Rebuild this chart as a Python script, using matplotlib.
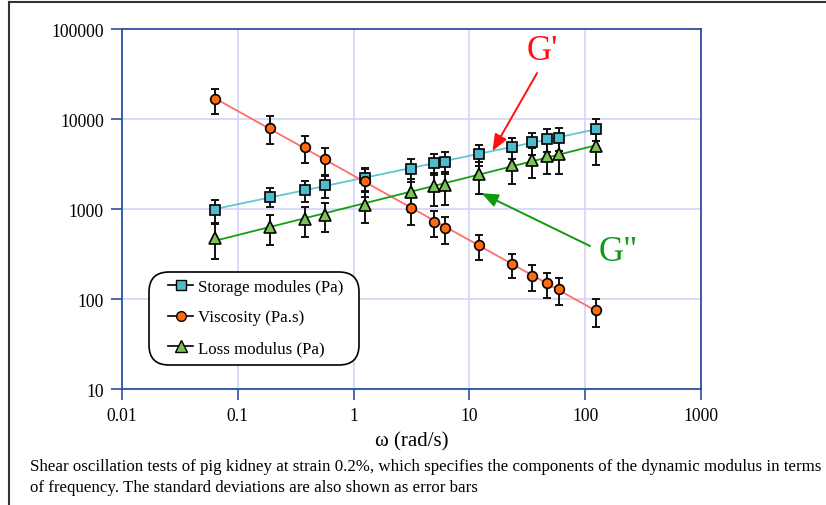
#!/usr/bin/env python3
"""Dynamic modulus / viscosity vs angular frequency (pig kidney, strain 0.2%)."""

import numpy as np
import matplotlib
matplotlib.use("Agg")
import matplotlib.pyplot as plt
from matplotlib.lines import Line2D
from matplotlib.patches import FancyBboxPatch

plt.rcParams["font.family"] = ["Liberation Serif", "DejaVu Serif"]

# angular frequency (rad/s)
OMEGA = [0.063, 0.19, 0.38, 0.57, 1.25, 3.1, 4.9, 6.2, 12, 23.5, 35, 47, 59, 125]

STORAGE     = [975, 1375, 1635, 1840, 2220, 2790, 3250, 3370, 4080, 4880, 5510, 5960, 6210, 7780]
STORAGE_ERR = [280, 330, 430, 530, 620, 800, 870, 950, 1100, 1300, 1550, 1700, 1750, 2100]

VISCOSITY     = [16500, 8000, 4850, 3550, 2050, 1030, 720, 610, 395, 242, 182, 149, 128, 75]
VISCOSITY_ERR = [5000, 2700, 1600, 1200, 700, 370, 235, 205, 125, 72, 58, 47, 42, 26]

LOSS     = [480, 630, 775, 860, 1120, 1530, 1790, 1850, 2420, 3100, 3500, 3920, 4060, 4950]
LOSS_ERR = [200, 230, 290, 310, 420, 600, 720, 750, 950, 1200, 1300, 1500, 1600, 1900]

SERIES = [
    ("Storage modules (Pa)", STORAGE, STORAGE_ERR, "s", "#4FBCCE", "#63C6D6", 7.5),
    ("Viscosity (Pa.s)", VISCOSITY, VISCOSITY_ERR, "o", "#FF6A10", "#FF6E6E", 7),
    ("Loss modulus (Pa)", LOSS, LOSS_ERR, "^", "#7DC257", "#12A012", 9),
]

CAPTION = ("Shear oscillation tests of pig kidney at strain 0.2%, which specifies the components "
           "of the dynamic modulus in terms\nof frequency. The standard deviations are also "
           "shown as error bars")

AXIS_BLUE = "#2F4F9F"
GRID_COL = "#D2D2FA"
RED = "#FF1010"
GREEN = "#109A10"


def main():
    fig = plt.figure(figsize=(8.26, 5.06), dpi=100)
    ax = fig.add_axes([0.1477, 0.2292, 0.701, 0.7115])

    x = np.array(OMEGA)
    handles = []
    for label, vals, err, marker, face, line_col, ms in SERIES:
        y = np.array(vals)
        # power-law fit drawn between first and last frequency
        k, b = np.polyfit(np.log10(x), np.log10(y), 1)
        xf = np.array([x.min(), x.max()])
        ax.plot(xf, 10 ** (k * np.log10(xf) + b), color=line_col, lw=1.3, zorder=2)
        ax.errorbar(x, y, yerr=err, fmt="none", ecolor="#111111",
                    elinewidth=1.4, capsize=3.2, capthick=1.4, zorder=3)
        ax.plot(x, y, ls="none", marker=marker, ms=ms, mfc=face, mec="black",
                mew=1.2, zorder=4)
        handles.append(Line2D([], [], color="black", lw=1.2, marker=marker,
                              ms=ms, mfc=face, mec="black", mew=1.0, label=label))

    ax.set_xscale("log")
    ax.set_yscale("log")
    ax.set_xlim(0.01, 1000)
    ax.set_ylim(10, 100000)
    ax.set_xticks([0.01, 0.1, 1, 10, 100, 1000])
    ax.set_xticklabels(["0.01", "0.1", "1", "10", "100", "1000"])
    ax.set_yticks([10, 100, 1000, 10000, 100000])
    ax.set_yticklabels(["10", "100", "1000", "10000", "100000"])
    ax.minorticks_off()
    ax.tick_params(axis="both", which="major", direction="out", length=8,
                   width=1.2, color=AXIS_BLUE, labelsize=12.7, pad=5)
    ax.tick_params(axis="x", top=False)
    ax.tick_params(axis="y", right=False)
    for s in ax.spines.values():
        s.set_color(AXIS_BLUE)
        s.set_linewidth(1.3)
    ax.grid(True, which="major", color=GRID_COL, lw=1.2)
    ax.set_axisbelow(True)

    ax.set_xlabel("\u03c9 (rad/s)", fontsize=15, labelpad=5)

    # legend: entries without frame, rounded box drawn separately (inches)
    ax.legend(handles=handles, loc="center left", bbox_to_anchor=(1.68, 1.875),
              bbox_transform=fig.dpi_scale_trans, borderaxespad=0, borderpad=0,
              fontsize=12.2, frameon=False, handlelength=1.5, handletextpad=0.3,
              labelspacing=0.85)
    box = FancyBboxPatch((1.49, 1.40), 2.10, 0.93,
                         boxstyle="round,pad=0,rounding_size=0.2",
                         transform=fig.dpi_scale_trans, fc="white", ec="black",
                         lw=1.2, zorder=4.5)
    ax.add_artist(box)

    # annotations pointing at G' and G''
    ax.text(43, 57000, "G'", color=RED, fontsize=25, ha="center", va="center")
    ax.annotate("", xy=(15.8, 4400), xytext=(38.4, 32400),
                arrowprops=dict(arrowstyle="-|>,head_length=0.5,head_width=0.2",
                                color=RED, lw=1.4, mutation_scale=20,
                                shrinkA=0, shrinkB=0))
    ax.text(192, 333, 'G"', color=GREEN, fontsize=25, ha="center", va="center")
    ax.annotate("", xy=(12.7, 1500), xytext=(110, 388),
                arrowprops=dict(arrowstyle="-|>,head_length=0.5,head_width=0.2",
                                color=GREEN, lw=1.4, mutation_scale=20,
                                shrinkA=0, shrinkB=0))

    fig.text(30 / 826, 1 - 459 / 506, CAPTION, fontsize=12.2, ha="left", va="top",
             linespacing=1.45)

    # outer frame (top and left edges visible)
    fig.add_artist(Line2D([9 / 826, 1.0], [1 - 3 / 506] * 2, color="#333333", lw=1.5))
    fig.add_artist(Line2D([9 / 826] * 2, [0.0, 1 - 3 / 506], color="#333333", lw=1.5))

    fig.savefig("out.png", dpi=100)
    plt.close(fig)


if __name__ == "__main__":
    main()
